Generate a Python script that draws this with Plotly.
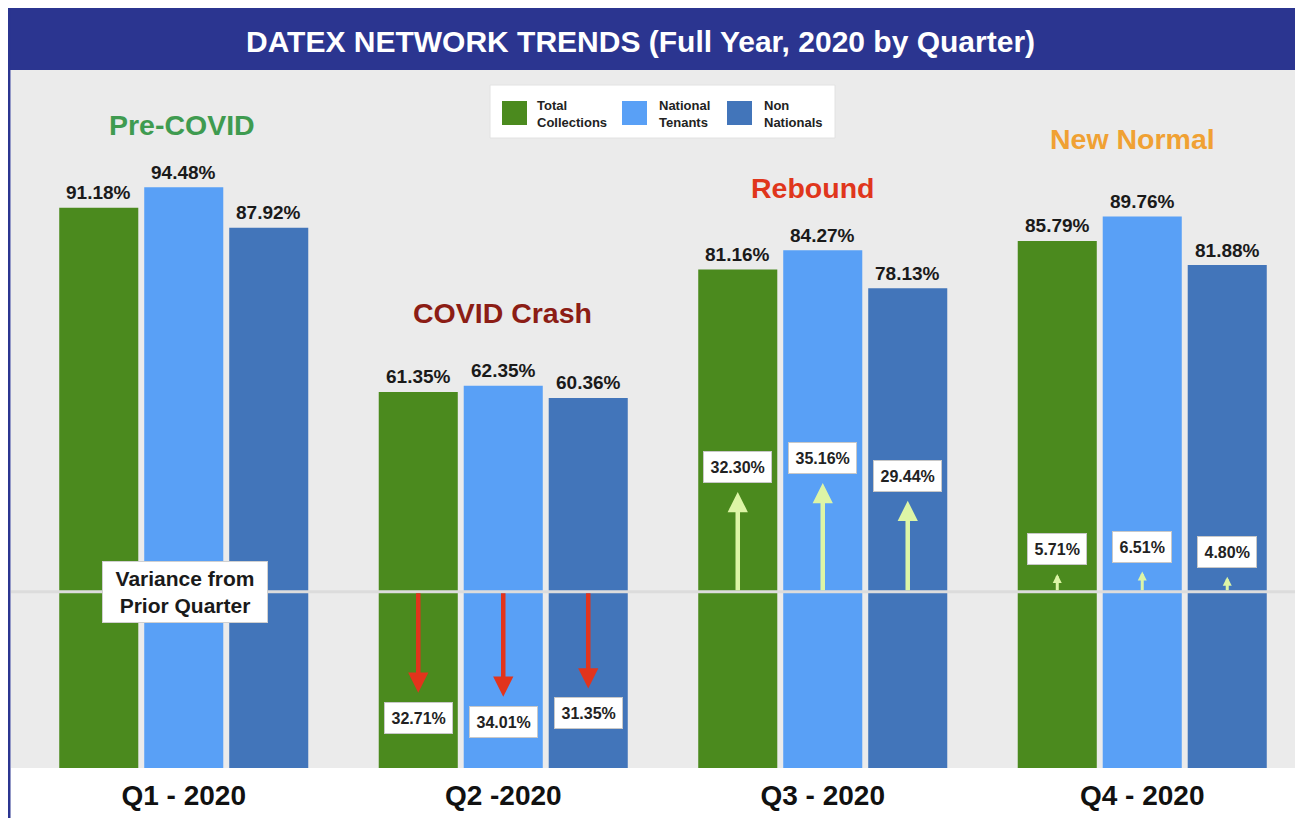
import plotly.graph_objects as go

# ---------------- data ----------------
quarters = ["Q1 - 2020", "Q2 -2020", "Q3 - 2020", "Q4 - 2020"]
series_names = ["Total Collections", "National Tenants", "Non Nationals"]
legend_labels = ["Total<br>Collections", "National<br>Tenants", "Non<br>Nationals"]
total_collections = [91.18, 61.35, 81.16, 85.79]
national_tenants = [94.48, 62.35, 84.27, 89.76]
non_nationals = [87.92, 60.36, 78.13, 81.88]
# variance from prior quarter (Q1 has none)
var_total = [None, -32.71, 32.30, 5.71]
var_national = [None, -34.01, 35.16, 6.51]
var_non = [None, -31.35, 29.44, 4.80]
phase_labels = ["Pre-COVID", "COVID Crash", "Rebound", "New Normal"]
title_text = "DATEX NETWORK TRENDS (Full Year, 2020 by Quarter)"
variance_label = "Variance from<br>Prior Quarter"

# ---------------- style / geometry ----------------
OFF = 8                      # page body margin
W, H = 1303 - 2 * OFF, 826 - 2 * OFF
ML, MR, MT = 24 - OFF, 1, 71 - OFF
MB = H - (768 - OFF)
PW, PH = W - ML - MR, H - MT - MB
PX_PER_CAT = 319.5
XRANGE = [-0.5, -0.5 + PW / PX_PER_CAT]
PX_PER_UNIT = 6.175
Y0 = 0.44
Y1 = Y0 + PH / PX_PER_UNIT
BARGAP, BARGROUPGAP = 0.202, 0.07
colors = ["#4b8a1e", "#59a0f6", "#4275ba"]
phase_colors = ["#3f9b50", "#8c1d15", "#e0361c", "#f0a133"]
phase_y = [104.6, 74.2, 94.4, 102.3]
phase_dx = [-2, -1, -10, -10]
VAR_BASE = 29.0
ARROW_SCALE = 0.5
GRAY = "#ebebeb"
NAVY = "#2b3590"
FONT = "Liberation Sans, Arial, sans-serif"


def px(xp):
    """page pixel x -> paper x"""
    return (xp - OFF - ML) / PW


def py(yp):
    """page pixel y -> paper y"""
    return (H - MB - (yp - OFF)) / PH


series = [total_collections, national_tenants, non_nationals]
variances = [var_total, var_national, var_non]
slot = (1 - BARGAP) / len(series)
offsets = [(k - (len(series) - 1) / 2) * slot for k in range(len(series))]

fig = go.Figure()
for name, vals, col in zip(series_names, series, colors):
    fig.add_trace(go.Bar(x=quarters, y=vals, name=name, marker=dict(color=col, line=dict(width=0)),
                         showlegend=False, hoverinfo="x+y+name"))

shapes = []
annotations = []

# background panels
shapes.append(dict(type="rect", xref="paper", yref="paper", x0=px(11), x1=px(1310), y0=py(70), y1=py(768),
                   fillcolor=GRAY, line=dict(width=0), layer="below"))
shapes.append(dict(type="rect", xref="paper", yref="paper", x0=px(8), x1=px(1310), y0=py(70), y1=py(6),
                   fillcolor=NAVY, line=dict(width=0), layer="below"))
shapes.append(dict(type="rect", xref="paper", yref="paper", x0=px(8), x1=px(10.5), y0=py(830), y1=py(6),
                   fillcolor=NAVY, line=dict(width=0), layer="below"))
# variance baseline
shapes.append(dict(type="line", xref="paper", yref="y", x0=px(11), x1=px(1310), y0=VAR_BASE, y1=VAR_BASE,
                   line=dict(color="#dcdcdc", width=3), layer="above"))

# title
annotations.append(dict(xref="paper", yref="paper", x=px(640), y=py(41), text="<b>" + title_text + "</b>",
                        showarrow=False, xanchor="center", yanchor="middle",
                        font=dict(size=30, color="white")))

# phase labels
for i, (lab, col) in enumerate(zip(phase_labels, phase_colors)):
    annotations.append(dict(x=i, y=phase_y[i], xshift=phase_dx[i], text="<b>" + lab + "</b>", showarrow=False,
                            xanchor="center", yanchor="middle", font=dict(size=28.5, color=col)))

# value labels
for k, vals in enumerate(series):
    for i, v in enumerate(vals):
        annotations.append(dict(x=i + offsets[k], y=v, yshift=15, text="<b>%.2f%%</b>" % v, showarrow=False,
                                xanchor="center", yanchor="middle", font=dict(size=19, color="#1a1a1a")))

# variance arrows + boxes
for k, vs in enumerate(variances):
    for i, v in enumerate(vs):
        if v is None:
            continue
        xx = i + offsets[k]
        tip = VAR_BASE + v * ARROW_SCALE
        big = abs(v) >= 10
        annotations.append(dict(x=xx, y=tip, ax=xx, ay=VAR_BASE, axref="x", ayref="y", text="",
                                showarrow=True, arrowhead=2, arrowsize=0.9 if big else 0.6,
                                arrowwidth=4.5 if big else 3, standoff=0, startstandoff=0,
                                arrowcolor="#e2341c" if v < 0 else "#ddf5a6"))
        annotations.append(dict(x=xx, y=tip, yshift=-25 if v < 0 else 25, text="<b>%.2f%%</b>" % abs(v),
                                showarrow=False, xanchor="center", yanchor="middle",
                                bgcolor="white", bordercolor="#c8c8c8", borderwidth=1, borderpad=6.5,
                                font=dict(size=16, color="#222222")))

# "Variance from Prior Quarter" box
annotations.append(dict(x=0, y=VAR_BASE, xshift=1, text="<b>" + variance_label + "</b>", showarrow=False,
                        xanchor="center", yanchor="middle", bgcolor="white", bordercolor="#d0d0d0",
                        borderwidth=1, borderpad=4, width=156, height=52,
                        font=dict(size=21, color="#1a1a1a")))

# custom legend
shapes.append(dict(type="rect", xref="paper", yref="paper", x0=px(490), x1=px(835), y0=py(138), y1=py(85),
                   fillcolor="white", line=dict(color="#e2e2e2", width=1), layer="above"))
leg_sq = [502, 622, 727]
leg_tx = [535, 657, 762]
for k in range(3):
    shapes.append(dict(type="rect", xref="paper", yref="paper", x0=px(leg_sq[k]), x1=px(leg_sq[k] + 25),
                       y0=py(125), y1=py(101), fillcolor=colors[k], line=dict(width=0), layer="above"))
    annotations.append(dict(xref="paper", yref="paper", x=px(leg_tx[k]), y=py(114),
                            text="<b>" + legend_labels[k] + "</b>",
                            showarrow=False, xanchor="left", yanchor="middle", align="left",
                            font=dict(size=13, color="#222222")))

fig.update_layout(
    width=W, height=H,
    margin=dict(l=ML, r=MR, t=MT, b=MB, pad=0),
    paper_bgcolor="white", plot_bgcolor="rgba(0,0,0,0)",
    barmode="group", bargap=BARGAP, bargroupgap=BARGROUPGAP,
    font=dict(family=FONT),
    shapes=shapes, annotations=annotations,
    xaxis=dict(type="category", range=XRANGE, showgrid=False, zeroline=False, showline=False,
               ticks="outside", ticklen=2, tickcolor="rgba(0,0,0,0)",
               tickfont=dict(size=28, color="#111111", family=FONT, weight="bold")),
    yaxis=dict(range=[Y0, Y1], visible=False, showgrid=False, zeroline=False),
)

fig.write_html("out.html")
